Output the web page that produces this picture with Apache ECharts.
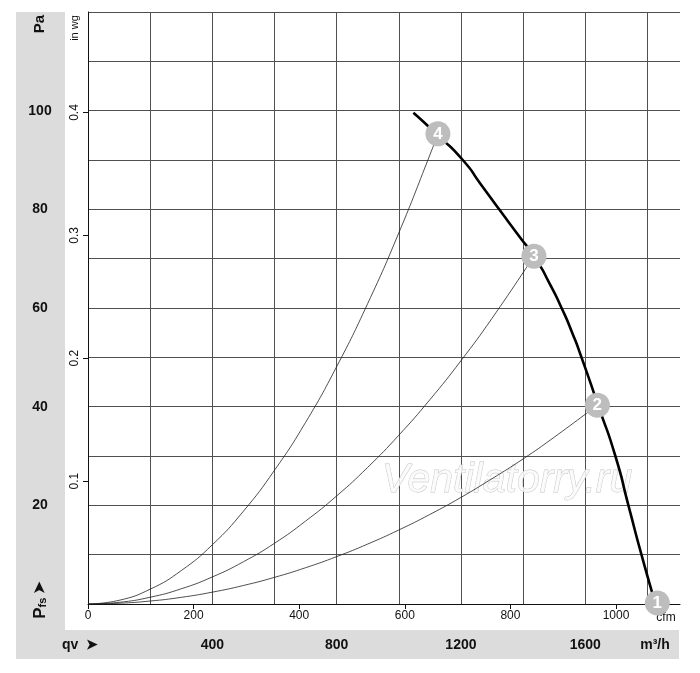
<!DOCTYPE html>
<html>
<head>
<meta charset="utf-8">
<script src="https://cdn.jsdelivr.net/npm/echarts@6/dist/echarts.min.js"></script>
<style>
  html, body { margin: 0; padding: 0; background: #fff; }
  #chart { width: 700px; height: 673px; }
</style>
</head>
<body>
<div id="chart"></div>
<script>
// 风机曲线 (m³/h, Pa)
var fanQ = [1047, 1126, 1206, 1265, 1323, 1382, 1440, 1485, 1524, 1558, 1588, 1643, 1697, 1739, 1781, 1824];
var fanP = [99.6, 95.0, 90.0, 85.0, 80.0, 75.0, 70.0, 65.0, 60.0, 55.0, 50.0, 40.0, 30.0, 20.0, 10.0, 0.5];

// 系统曲线 2, 3, 4
var sys2Q = [0, 100, 200, 300, 400, 500, 600, 700, 800, 900, 1000, 1100, 1200, 1300, 1400, 1500, 1639];
var sys2P = [0, 0.15, 0.6, 1.35, 2.4, 3.75, 5.4, 7.35, 9.6, 12.15, 15.0, 18.15, 21.6, 25.4, 29.4, 33.8, 40.3];
var sys3Q = [0, 100, 200, 300, 400, 500, 600, 700, 800, 900, 1000, 1100, 1200, 1300, 1435];
var sys3P = [0, 0.34, 1.37, 3.08, 5.48, 8.56, 12.3, 16.8, 21.9, 27.7, 34.2, 41.4, 49.3, 57.9, 70.5];
var sys4Q = [0, 100, 200, 300, 400, 500, 600, 700, 800, 900, 1000, 1100, 1126];
var sys4P = [0, 0.75, 3.0, 6.77, 12.0, 18.8, 27.1, 36.8, 48.1, 60.9, 75.2, 91.0, 95.3];

// 工作点
var pointNames = ['1', '2', '3', '4'];
var pointQ = [1832, 1639, 1435, 1126];
var pointP = [0.2, 40.3, 70.5, 95.3];

// 刻度标签
var qvLabels = [400, 800, 1200, 1600];
var paLabels = [20, 40, 60, 80, 100];
var cfmTicks = [0, 200, 400, 600, 800, 1000];
var inwgTicks = [0.1, 0.2, 0.3, 0.4];

var qMax = 1905;          // m³/h
var pMax = 120;           // Pa
var CFM = 1.699;          // m³/h per cfm
var INWG = 249.09;        // Pa per in wg

function pairs(xs, ys) {
	var out = [];
	for (var i = 0; i < xs.length; i++) out.push([xs[i], ys[i]]);
	return out;
}

var pts = [];
for (var i = 0; i < pointNames.length; i++) {
	pts.push({ name: pointNames[i], value: [pointQ[i], pointP[i]] });
}

var font = 'Liberation Sans, Arial, sans-serif';
var gridColor = '#505050';
var thin = { color: '#222', width: 0.8 };

var myChart = echarts.init(document.getElementById('chart'));

var option = {
	backgroundColor: '#fff',
	animation: false,
	grid: { left: 88, top: 12, width: 592, height: 592 },
	graphic: [
		// 灰色条
		{ type: 'rect', shape: { x: 16, y: 12, width: 49, height: 618 }, style: { fill: '#dcdcdc' }, z: -10 },
		{ type: 'rect', shape: { x: 16, y: 630, width: 663, height: 29 }, style: { fill: '#dcdcdc' }, z: -10 },
		{ type: 'text', x: 40, y: 24, rotation: Math.PI / 2,
			style: { text: 'Pa', font: 'bold 15px ' + font, fill: '#111', align: 'center', verticalAlign: 'middle' } },
		{ type: 'text', x: 75, y: 28, rotation: Math.PI / 2,
			style: { text: 'in wg', font: '11px ' + font, fill: '#111', align: 'center', verticalAlign: 'middle' } },
		{ type: 'text', x: 40, y: 600, rotation: Math.PI / 2,
			style: { text: '{a|P}{b|fs} {c|➤}', align: 'center', verticalAlign: 'middle',
				rich: {
					a: { font: 'bold 17px ' + font, fill: '#111' },
					b: { font: 'bold 11px ' + font, fill: '#111', padding: [6, 0, 0, 0] },
					c: { font: 'bold 15px ' + font, fill: '#111' }
				} } },
		{ type: 'text', x: 62, y: 645,
			style: { text: 'qv  ➤', font: 'bold 14px ' + font, fill: '#111', align: 'left', verticalAlign: 'middle' } },
		{ type: 'text', x: 655, y: 645,
			style: { text: 'm³/h', font: 'bold 14px ' + font, fill: '#111', align: 'center', verticalAlign: 'middle' } },
		{ type: 'text', x: 666, y: 618,
			style: { text: 'cfm', font: '12px ' + font, fill: '#111', align: 'center', verticalAlign: 'middle' } },
		// 水印
		{ type: 'text', x: 507, y: 481, z: 1,
			style: { text: 'Ventilatorry.ru', font: 'italic 41px ' + font, fill: 'rgba(250,250,250,0.85)',
				stroke: '#c4c4c4', lineWidth: 0.8, align: 'center', verticalAlign: 'middle' } }
	],
	xAxis: [{
		type: 'value', min: 0, max: qMax, interval: 200, position: 'bottom',
		axisLine: { show: false }, axisTick: { show: false },
		splitLine: { show: true, showMaxLine: false, lineStyle: { color: gridColor, width: 1 } },
		axisLabel: {
			margin: 34, color: '#111', fontFamily: font, fontSize: 14, fontWeight: 'bold',
			formatter: function (v) { return qvLabels.indexOf(v) >= 0 ? String(v) : ''; }
		}
	}, {
		type: 'value', min: 0, max: qMax / CFM, interval: 200, position: 'bottom',
		axisLine: { show: true, onZero: false, lineStyle: { color: '#111', width: 1 } },
		axisTick: { show: true, length: 5, customValues: cfmTicks, lineStyle: { color: '#111' } },
		splitLine: { show: false },
		axisLabel: {
			margin: 6, color: '#111', fontFamily: font, fontSize: 12, customValues: cfmTicks,
			formatter: function (v) { return String(v); }
		}
	}],
	yAxis: [{
		type: 'value', min: 0, max: pMax, interval: 10, position: 'left',
		axisLine: { show: false }, axisTick: { show: false },
		splitLine: { show: true, lineStyle: { color: gridColor, width: 1 } },
		axisLabel: {
			margin: 48, align: 'center', color: '#111', fontFamily: font, fontSize: 14, fontWeight: 'bold',
			formatter: function (v) { return paLabels.indexOf(v) >= 0 ? String(v) : ''; }
		}
	}, {
		type: 'value', min: 0, max: pMax / INWG, interval: 0.1, position: 'left',
		axisLine: { show: true, onZero: false, lineStyle: { color: '#111', width: 1 } },
		axisTick: { show: true, length: 5, customValues: inwgTicks, lineStyle: { color: '#111' } },
		splitLine: { show: false },
		axisLabel: {
			margin: 7, rotate: 90, color: '#111', fontFamily: font, fontSize: 12, customValues: inwgTicks,
			formatter: function (v) { return v.toFixed(1); }
		}
	}],
	series: [{
		name: 'sys2', type: 'line', smooth: 0.5, symbol: 'none', data: pairs(sys2Q, sys2P), lineStyle: thin, z: 3
	}, {
		name: 'sys3', type: 'line', smooth: 0.5, symbol: 'none', data: pairs(sys3Q, sys3P), lineStyle: thin, z: 3
	}, {
		name: 'sys4', type: 'line', smooth: 0.5, symbol: 'none', data: pairs(sys4Q, sys4P), lineStyle: thin, z: 3
	}, {
		name: 'fan', type: 'line', smooth: 0.7, symbol: 'none', data: pairs(fanQ, fanP),
		lineStyle: { color: '#000', width: 2.6 }, z: 4
	}, {
		name: 'points', type: 'scatter', symbolSize: 25, data: pts, z: 6,
		itemStyle: { color: '#bdbdbd', opacity: 1 },
		label: { show: true, position: 'inside', formatter: '{b}', color: '#fff',
			fontFamily: font, fontSize: 17, fontWeight: 'bold' }
	}]
};

myChart.setOption(option);
</script>
</body>
</html>
